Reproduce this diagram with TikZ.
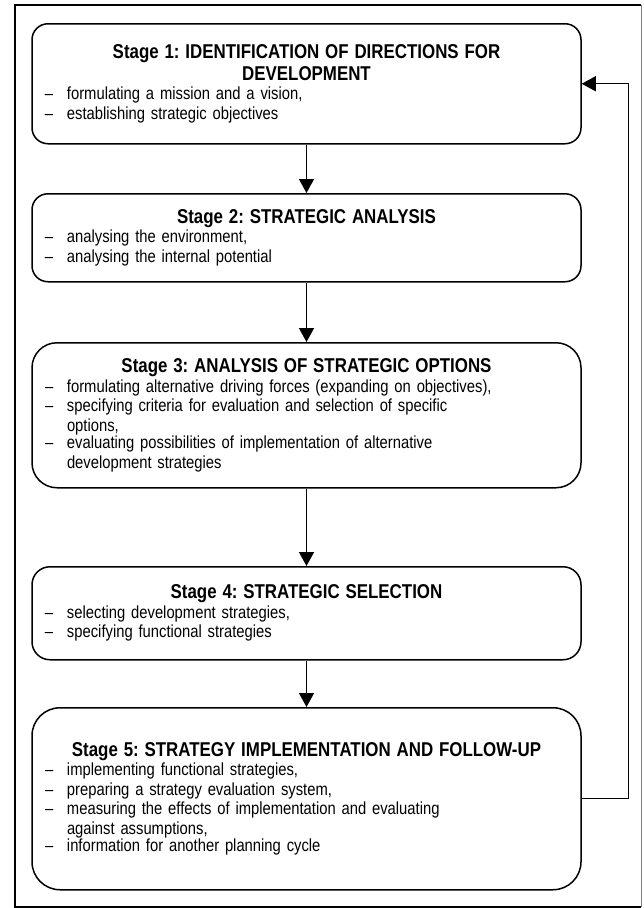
\documentclass[tikz,border=0pt]{standalone}
\usepackage{fontspec}
\setmainfont{Liberation Sans}[FakeStretch=0.845]
\usetikzlibrary{arrows.meta}

\newcommand{\stagetitle}[1]{{\centering\fontsize{20}{22}\selectfont\bfseries #1\par}}
\newcommand{\stagepoint}[1]{\par\noindent\makebox[22pt][l]{--}%
  \parbox[t]{\dimexpr\linewidth-22pt}{\raggedright #1}\par}

\tikzset{
  stage/.style={draw, line width=1.5pt, anchor=north, text width=523pt,
    inner xsep=13pt, inner ysep=3pt,
    font=\frenchspacing\fontsize{17.5}{19.5}\selectfont},
  flow/.style={line width=1.4pt, -{Triangle[length=14pt,width=15pt]}},
}

\begin{document}
\begin{tikzpicture}
\begin{scope}[x=1pt, y=-1pt]
\useasboundingbox (0,0) rectangle (644,908);

\draw[line width=1.2pt] (641,5) -- (15,5) -- (15,907) -- (641,907);
\draw[gray, line width=0.8pt] (641,5) -- (641,907);

\node[stage, minimum height=120pt, rounded corners=16pt] (s1) at (306.5,23) {%
  \stagetitle{Stage 1: IDENTIFICATION OF DIRECTIONS FOR\\DEVELOPMENT}
  \stagepoint{formulating a mission and a vision,}
  \stagepoint{establishing strategic objectives}};

\node[stage, minimum height=88pt, rounded corners=16pt] (s2) at (306.5,193) {%
  \stagetitle{Stage 2: STRATEGIC ANALYSIS}
  \stagepoint{analysing the environment,}
  \stagepoint{analysing the internal potential}};

\node[stage, minimum height=145pt, rounded corners=25pt] (s3) at (306.5,342) {%
  \stagetitle{Stage 3: ANALYSIS OF STRATEGIC OPTIONS}
  \stagepoint{formulating alternative driving forces (expanding on objectives),}
  \stagepoint{specifying criteria for evaluation and selection of specific\newline options,}
  \stagepoint{evaluating possibilities of implementation of alternative\newline development strategies}};

\node[stage, minimum height=93pt, rounded corners=18pt] (s4) at (306.5,566) {%
  \stagetitle{Stage 4: STRATEGIC SELECTION}
  \stagepoint{selecting development strategies,}
  \stagepoint{specifying functional strategies}};

\node[stage, minimum height=182pt, rounded corners=28pt] (s5) at (306.5,707) {%
  \stagetitle{Stage 5: STRATEGY IMPLEMENTATION AND FOLLOW-UP}
  \stagepoint{implementing functional strategies,}
  \stagepoint{preparing a strategy evaluation system,}
  \stagepoint{measuring the effects of implementation and evaluating\newline against assumptions,}
  \stagepoint{information for another planning cycle}};

\draw[flow] (s1) -- (s2);
\draw[flow] (s2) -- (s3);
\draw[flow] (s3) -- (s4);
\draw[flow] (s4) -- (s5);
\draw[flow] (s5.east) -- ++(47,0) |- (s1.east);

\end{scope}
\end{tikzpicture}
\end{document}
